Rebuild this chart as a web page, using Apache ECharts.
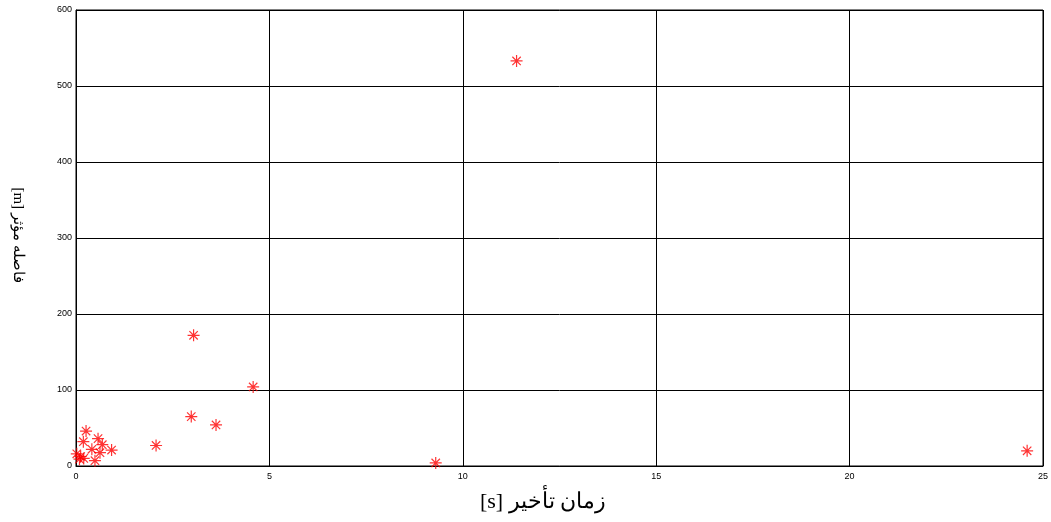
<!DOCTYPE html>
<html>
<head>
<meta charset="utf-8">
<script src="https://cdn.jsdelivr.net/npm/echarts@6/dist/echarts.min.js"></script>
<style>
  html, body { margin: 0; padding: 0; background: #fff; }
  #chart { width: 1051px; height: 522px; }
</style>
</head>
<body>
<div id="chart"></div>
<script>
// delay time [s]
const delayTime = [11.39, 3.04, 4.58, 2.98, 3.62, 2.07, 9.3, 24.59,
  0.26, 0.19, 0.57, 0.68, 0.41, 0.92, 0.62, 0.02, 0.12, 0.2, 0.49, 0.09];
// effective distance [m]
const effective = [533, 172, 104, 65, 54, 27, 4, 20,
  46, 32, 36, 28, 22, 21, 17.5, 16, 12.5, 10, 7, 9];

const xTicks = [0, 5, 10, 15, 20, 25];
const yTicks = [0, 100, 200, 300, 400, 500, 600];

const points = delayTime.map((x, i) => [x, effective[i]]);

const chart = echarts.init(document.getElementById('chart'));

// matlab style '*' marker
const asterisk = 'path://M0,-10L0,10M-10,0L10,0M-7,-7L7,7M-7,7L7,-7';

const option = {
  animation: false,
  grid: {
    left: 76, right: 8, top: 10, bottom: 56,
    show: true, borderColor: '#000', borderWidth: 1
  },
  xAxis: {
    type: 'value',
    min: xTicks[0], max: xTicks[xTicks.length - 1], interval: 5,
    axisLine: { show: true, lineStyle: { color: '#000', width: 1 } },
    axisTick: { show: true, inside: true, length: 5, lineStyle: { color: '#000' } },
    axisLabel: { color: '#000', fontSize: 9, fontFamily: 'Liberation Sans', margin: 6 },
    splitLine: { show: true, lineStyle: { color: '#000', width: 1 } }
  },
  yAxis: {
    type: 'value',
    min: yTicks[0], max: yTicks[yTicks.length - 1], interval: 100,
    axisLine: { show: true, lineStyle: { color: '#000', width: 1 } },
    axisTick: { show: true, inside: true, length: 5, lineStyle: { color: '#000' } },
    axisLabel: { color: '#000', fontSize: 9, fontFamily: 'Liberation Sans', margin: 4 },
    splitLine: { show: true, lineStyle: { color: '#000', width: 1 } }
  },
  graphic: [
    {
      type: 'text', x: 543, y: 502,
      style: {
        text: '[s] زمان تأخير', fill: '#000', font: '22px "Liberation Serif"',
        align: 'center', verticalAlign: 'middle'
      }
    },
    {
      type: 'text', x: 18, y: 235, rotation: -Math.PI / 2,
      style: {
        text: '[m] فاصله مؤثر', fill: '#000', font: '15px "Liberation Serif"',
        align: 'center', verticalAlign: 'middle'
      }
    }
  ],
  series: [{
    type: 'scatter',
    data: points,
    symbol: asterisk,
    symbolSize: 12,
    itemStyle: { color: 'none', borderColor: '#ff0000', borderWidth: 1.2 },
    z: 5
  }]
};

chart.setOption(option);
</script>
</body>
</html>
